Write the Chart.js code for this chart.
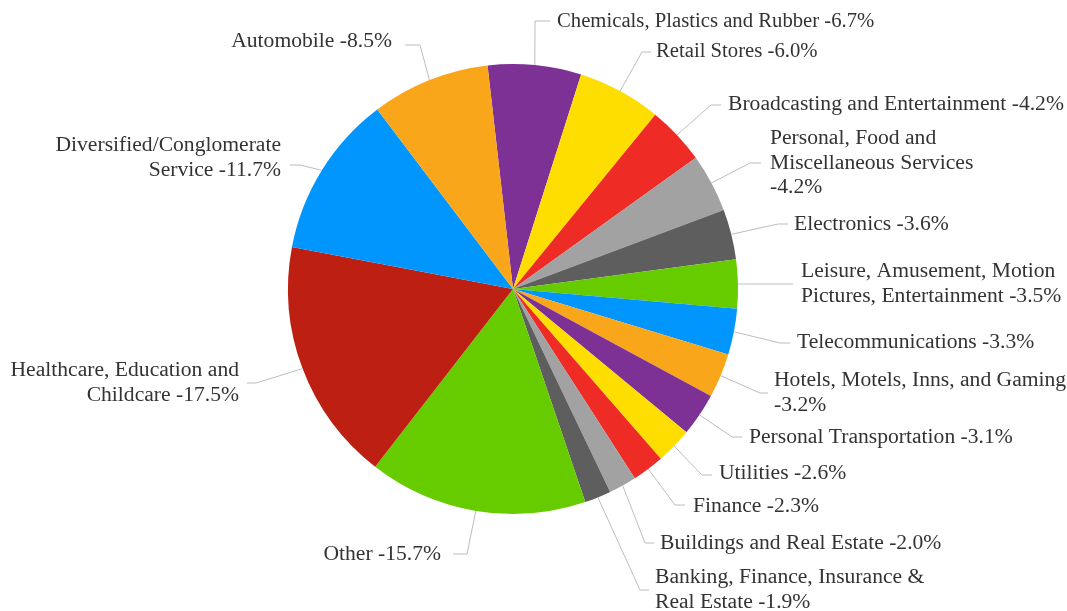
<!DOCTYPE html>
<html>
<head>
<meta charset="utf-8">
<script src="https://cdn.jsdelivr.net/npm/chart.js@4.4.1/dist/chart.umd.min.js"></script>
<style>
  html,body{margin:0;padding:0;background:#fff;}
  #wrap{width:1067px;height:611px;}
</style>
</head>
<body>
<div id="wrap"><canvas id="c" width="1067" height="611"></canvas></div>
<script>
// ── Data (clockwise from the top) ─────────────────────────────────────────────
const sectors=[
  'Chemicals, Plastics and Rubber','Retail Stores','Broadcasting and Entertainment',
  'Personal, Food and Miscellaneous Services','Electronics',
  'Leisure, Amusement, Motion Pictures, Entertainment','Telecommunications',
  'Hotels, Motels, Inns, and Gaming','Personal Transportation','Utilities','Finance',
  'Buildings and Real Estate','Banking, Finance, Insurance & Real Estate','Other',
  'Healthcare, Education and Childcare','Diversified/Conglomerate Service','Automobile'
];
const shares=[6.7,6.0,4.2,4.2,3.6,3.5,3.3,3.2,3.1,2.6,2.3,2.0,1.9,15.7,17.5,11.7,8.5];
// label text as it wraps in the picture
const labelLines=[
  ['Chemicals, Plastics and Rubber -6.7%'],
  ['Retail Stores -6.0%'],
  ['Broadcasting and Entertainment -4.2%'],
  ['Personal, Food and','Miscellaneous Services','-4.2%'],
  ['Electronics -3.6%'],
  ['Leisure, Amusement, Motion','Pictures, Entertainment -3.5%'],
  ['Telecommunications -3.3%'],
  ['Hotels, Motels, Inns, and Gaming','-3.2%'],
  ['Personal Transportation -3.1%'],
  ['Utilities -2.6%'],
  ['Finance -2.3%'],
  ['Buildings and Real Estate -2.0%'],
  ['Banking, Finance, Insurance &','Real Estate -1.9%'],
  ['Other -15.7%'],
  ['Healthcare, Education and','Childcare -17.5%'],
  ['Diversified/Conglomerate','Service -11.7%'],
  ['Automobile -8.5%']
];

// ── Style ─────────────────────────────────────────────────────────────────────
const PURPLE='#7E3195', YELLOW='#FEDD00', RED='#EE2B24', LGRAY='#A2A2A2', DGRAY='#5E5E5E',
      GREEN='#66CC00', BLUE='#0096FE', ORANGE='#F9A61B', DRED='#BD1F13';
const colors=[PURPLE,YELLOW,RED,LGRAY,DGRAY,GREEN,BLUE,ORANGE,PURPLE,YELLOW,RED,LGRAY,DGRAY,GREEN,DRED,BLUE,ORANGE];

// label layout: text x, first line y, side, elbow (ex,ey), end of tick (tx), optional stretch
const labelPos=[
  {x:557,y:22, side:'r',ex:535,ey:21, tx:550,st:1.035},
  {x:656,y:52, side:'r',ex:642,ey:52, tx:651,st:1.035},
  {x:728,y:105,side:'r',ex:711,ey:105,tx:721},
  {x:770,y:139,side:'r',ex:750,ey:163,tx:761},
  {x:794,y:225,side:'r',ex:778,ey:224,tx:788},
  {x:801,y:272,side:'r',ex:780,ey:284,tx:793},
  {x:797,y:343,side:'r',ex:780,ey:343,tx:790},
  {x:774,y:381,side:'r',ex:760,ey:393,tx:768},
  {x:749,y:438,side:'r',ex:732,ey:437,tx:742},
  {x:719,y:474,side:'r',ex:702,ey:475,tx:712},
  {x:693,y:507,side:'r',ex:675,ey:505,tx:685},
  {x:660,y:544,side:'r',ex:645,ey:543,tx:654},
  {x:655,y:578,side:'r',ex:640,ey:590,tx:649},
  {x:441,y:555,side:'l',ex:467,ey:554,tx:453},
  {x:239,y:371,side:'l',ex:256,ey:383,tx:247},
  {x:281,y:146,side:'l',ex:300,ey:165,tx:290},
  {x:392,y:42, side:'l',ex:420,ey:45, tx:405}
];
const LINE_H=24.5, TEXT_STRETCH=1.08;

// ── Leader lines + labels ─────────────────────────────────────────────────────
const calloutPlugin={
  id:'callouts',
  afterDatasetsDraw(chart){
    const ctx=chart.ctx, arcs=chart.getDatasetMeta(0).data;
    ctx.save();
    ctx.strokeStyle='#BDBDBD'; ctx.lineWidth=1;
    ctx.font='20px "Liberation Serif", "Times New Roman", serif';
    ctx.fillStyle='#333'; ctx.textBaseline='middle';
    arcs.forEach((a,i)=>{
      const p=labelPos[i], mid=(a.startAngle+a.endAngle)/2;
      const sx=a.x+Math.cos(mid)*a.outerRadius, sy=a.y+Math.sin(mid)*a.outerRadius;
      ctx.beginPath(); ctx.moveTo(sx,sy); ctx.lineTo(p.ex,p.ey); ctx.lineTo(p.tx,p.ey); ctx.stroke();
      ctx.textAlign=p.side==='r'?'left':'right';
      labelLines[i].forEach((t,k)=>{
        ctx.save(); ctx.translate(p.x,p.y+k*LINE_H); ctx.scale(p.st||TEXT_STRETCH,1);
        ctx.fillText(t,0,0); ctx.restore();
      });
    });
    ctx.restore();
  }
};

// ── Chart ─────────────────────────────────────────────────────────────────────
new Chart(document.getElementById('c').getContext('2d'),{
  type:'pie',
  data:{labels:sectors,datasets:[{data:shares,backgroundColor:colors,borderWidth:0}]},
  options:{
    responsive:false, animation:false, rotation:-6.5,
    layout:{padding:{left:288,right:329,top:64,bottom:97}},
    plugins:{legend:{display:false},tooltip:{enabled:false}}
  },
  plugins:[calloutPlugin]
});
</script>
</body>
</html>
